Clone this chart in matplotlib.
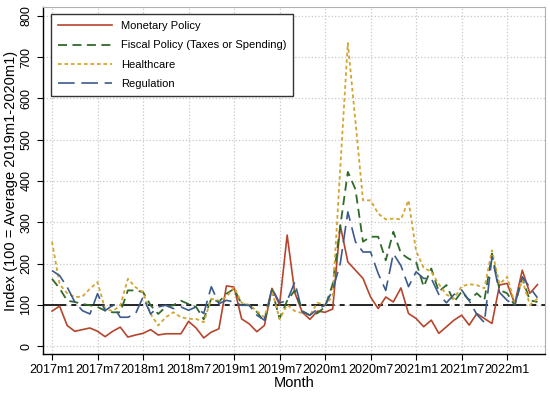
import matplotlib
matplotlib.use("Agg")
import matplotlib.pyplot as plt
import numpy as np

plt.rcParams['font.family'] = ['Liberation Sans', 'DejaVu Sans']

# monthly series, 2017m1 .. 2022m5
monetary = [85, 97, 50, 36, 40, 44, 36, 23, 36, 46, 22, 27, 31, 40, 27, 30, 30, 30,
            60, 44, 20, 34, 42, 146, 143, 66, 54, 35, 50, 140, 100, 269, 130, 82, 65,
            85, 82, 90, 293, 204, 184, 164, 119, 91, 119, 107, 141, 79, 67, 47, 63,
            31, 47, 63, 75, 51, 79, 67, 55, 148, 152, 103, 184, 128, 149]
fiscal = [163, 140, 110, 107, 102, 99, 95, 86, 82, 82, 135, 135, 131, 99, 78, 95, 99,
          110, 102, 95, 65, 115, 107, 127, 139, 102, 99, 83, 59, 136, 67, 110, 135, 85,
          75, 80, 95, 150, 290, 422, 380, 253, 265, 265, 208, 277, 225, 212, 204, 144,
          188, 132, 148, 107, 132, 111, 128, 111, 224, 136, 128, 99, 164, 111, 107]
healthcare = [253, 150, 128, 119, 120, 139, 155, 90, 85, 98, 163, 143, 131, 78, 50, 70,
              82, 70, 66, 66, 58, 115, 110, 119, 143, 105, 100, 85, 70, 135, 65, 100, 85,
              80, 75, 105, 100, 120, 430, 734, 545, 353, 353, 321, 307, 309, 307, 353,
              230, 190, 180, 150, 125, 115, 145, 150, 148, 140, 232, 150, 168, 105, 160,
              100, 115]
regulation = [183, 171, 143, 107, 86, 78, 127, 86, 99, 70, 70, 78, 119, 78, 95, 99, 91,
              95, 87, 95, 79, 144, 103, 111, 107, 99, 99, 75, 63, 140, 105, 110, 155, 83,
              75, 90, 99, 136, 200, 325, 253, 228, 228, 176, 135, 224, 195, 144, 180, 164,
              164, 125, 105, 125, 136, 110, 77, 57, 216, 130, 111, 99, 168, 142, 117]

tick_labels = ['2017m1', '2017m7', '2018m1', '2018m7', '2019m1', '2019m7',
               '2020m1', '2020m7', '2021m1', '2021m7', '2022m1']

months = np.arange(len(monetary))

fig = plt.figure(figsize=(5.5, 3.94), dpi=100)
ax = fig.add_axes([0.078, 0.1015, 0.913, 0.8805])

ax.plot(months, monetary, color='#b5452c', lw=1.2, label='Monetary Policy')
ax.plot(months, fiscal, color='#2f6a2a', lw=1.3, dashes=(5, 3),
        label='Fiscal Policy (Taxes or Spending)')
ax.plot(months, healthcare, color='#d3a532', lw=1.3, dashes=(2, 1.6),
        label='Healthcare')
ax.plot(months, regulation, color='#3b5b8c', lw=1.2, dashes=(10, 4),
        label='Regulation')
ax.axhline(100, color='black', lw=1.2, dashes=(14, 3, 3, 3), zorder=1)

ax.set_xlim(-1.2, 65)
ax.set_ylim(-19, 821)
ax.set_xticks(np.arange(0, 61, 6))
ax.set_xticklabels(tick_labels)
ax.set_yticks(np.arange(0, 801, 100))
ax.set_yticklabels([str(v) for v in range(0, 801, 100)], rotation=90, va='center')
ax.tick_params(labelsize=9, length=4, width=0.8)
ax.grid(True, color='#c8c8c8', ls=':', lw=0.9)
ax.set_axisbelow(True)

for side in ['top', 'right']:
    ax.spines[side].set_color('#b0b0b0')
    ax.spines[side].set_linewidth(0.8)
for side in ['left', 'bottom']:
    ax.spines[side].set_linewidth(1.0)

ax.set_xlabel('Month', fontsize=10.5, labelpad=0)
ax.set_ylabel('Index (100 = Average 2019m1-2020m1)', fontsize=10.5, labelpad=2)

leg = ax.legend(loc='upper left', bbox_to_anchor=(0.005, 0.995), fontsize=8,
                handlelength=4.9, fancybox=False, framealpha=1,
                edgecolor='#333333', borderpad=0.6, labelspacing=0.85,
                handletextpad=0.8)
leg.get_frame().set_linewidth(1.0)

plt.savefig('out.png', dpi=100)
